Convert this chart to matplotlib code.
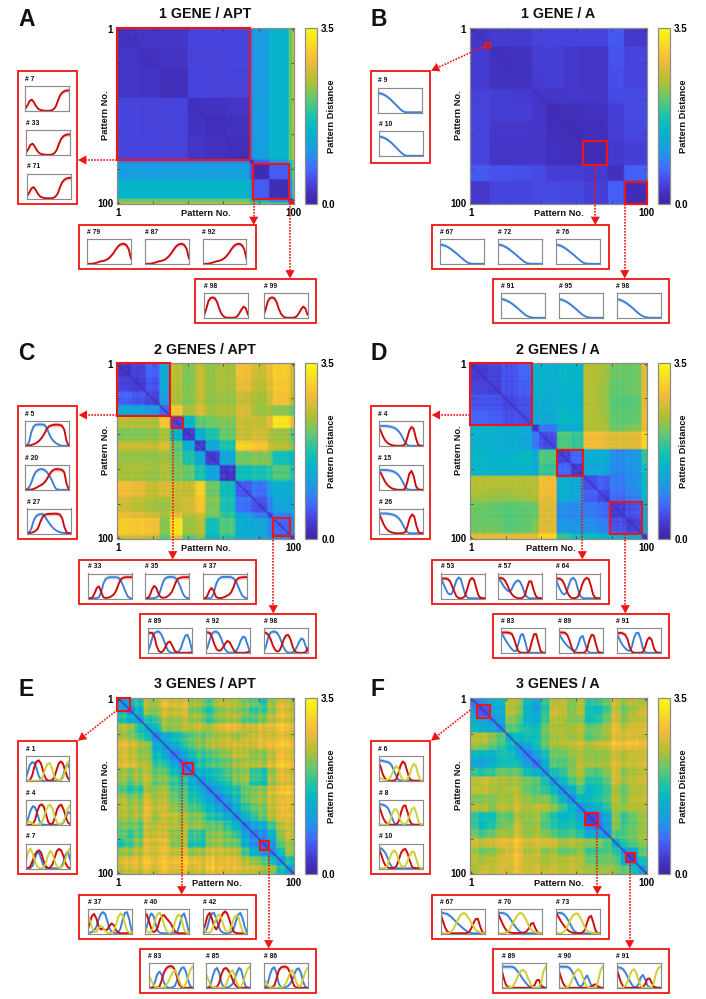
import numpy as np
import matplotlib
matplotlib.use('Agg')
import matplotlib.pyplot as plt
from matplotlib.colors import LinearSegmentedColormap
from matplotlib.patches import Rectangle

plt.rcParams['font.family'] = ['Liberation Sans', 'DejaVu Sans']
plt.rcParams['font.weight'] = 'bold'

# ---------- heat-map data: block edges + lower-triangular block values ----------
a_edges = [0, 12, 24, 40, 50, 62, 75, 77, 86, 97, 99, 100]
a_vals = [[.24], [.26, .22], [.27, .25, .20], [.42, .40, .42, .22], [.42, .40, .40, .24, .20],
          [.42, .42, .40, .26, .22, .20], [.85, .85, .85, .85, .85, .85, .10],
          [1.12, 1.10, 1.12, 1.15, 1.12, 1.15, .60, .15],
          [1.45, 1.45, 1.45, 1.45, 1.45, 1.48, 1.00, .60, .18],
          [2.10, 2.10, 2.10, 2.10, 2.10, 2.10, 1.70, 1.50, .90, .10],
          [2.60, 2.60, 2.60, 2.60, 2.60, 2.60, 2.20, 2.20, 2.00, .60, .05]]

b_edges = [0, 11, 24, 35, 43, 53, 64, 78, 87, 100]
b_vals = [[.28], [.34, .22], [.34, .24, .24], [.40, .36, .34, .28], [.42, .36, .36, .28, .18],
          [.42, .30, .30, .28, .20, .18], [.42, .26, .26, .28, .22, .20, .16],
          [.58, .52, .50, .46, .36, .36, .32, .22],
          [.30, .42, .42, .46, .46, .44, .38, .62, .18]]

c_edges = [0, 8, 16, 24, 30, 37, 44, 50, 58, 67, 76, 85, 88, 98, 100]
c_vals = [[.25], [.38, .32], [.65, .55, .45], [1.25, 1.20, 1.05, .55],
          [2.45, 2.40, 2.40, 2.90, .40],
          [2.20, 2.20, 2.25, 2.35, 1.40, .30],
          [2.50, 2.50, 2.50, 2.60, 2.00, 1.30, .30],
          [2.30, 2.30, 2.30, 2.30, 2.10, 1.70, 1.20, .30],
          [2.40, 2.40, 2.35, 2.40, 2.20, 2.10, 1.70, 1.20, .30],
          [2.85, 2.75, 2.55, 2.60, 2.50, 2.50, 3.00, 2.10, 1.60, .50],
          [2.60, 2.50, 2.40, 2.30, 2.50, 2.60, 2.90, 2.20, 1.70, .70, .50],
          [2.80, 2.70, 2.60, 2.30, 2.70, 2.40, 2.50, 2.10, 1.80, 1.10, .80, .40],
          [3.00, 2.95, 2.90, 2.20, 3.20, 2.30, 2.40, 1.60, 2.00, 1.30, 1.20, .80, .60],
          [2.60, 2.60, 2.50, 2.00, 2.80, 2.00, 2.20, 1.50, 1.80, 1.40, 1.30, 1.00, .90, .30]]

d_edges = [0, 10, 18, 27, 35, 39, 49, 57, 64, 72, 79, 88, 97, 100]
d_vals = [[.30], [.38, .35], [.50, .50, .40], [.60, .55, .45, .40],
          [1.40, 1.40, 1.30, 1.20, .30],
          [1.30, 1.30, 1.25, 1.15, .70, .30],
          [1.45, 1.40, 1.40, 1.45, 1.30, 1.90, .35],
          [1.45, 1.40, 1.40, 1.40, 1.30, 1.80, .65, .35],
          [2.40, 2.40, 2.40, 2.35, 2.40, 2.75, 1.30, 1.20, .40],
          [2.35, 2.30, 2.30, 2.30, 2.40, 2.70, 1.30, 1.20, .55, .40],
          [2.10, 2.05, 2.00, 2.00, 2.10, 2.60, .90, .90, .75, .65, .30],
          [2.10, 2.10, 2.00, 2.00, 2.20, 2.60, 1.00, 1.00, .90, .80, .45, .30],
          [2.70, 2.70, 2.70, 2.70, 2.70, 3.00, 1.80, 1.60, 1.50, 1.40, 1.30, 1.20, .30]]

e_edges = list(range(0, 101, 5))
e_vals = [[1.0], [1.7, 1.0], [1.9, 1.6, 1.3], [2.5, 2.4, 1.8, 1.3], [2.6, 2.5, 2.2, 1.7, 1.2],
          [2.8, 2.7, 2.5, 2.2, 1.4, 1.1], [2.8, 2.7, 2.5, 2.3, 1.8, 1.3, 1.0],
          [2.8, 2.8, 2.6, 2.4, 2.0, 1.7, 1.3, .9], [2.5, 2.4, 2.5, 2.5, 2.3, 2.1, 1.8, 1.4, 1.1],
          [2.4, 2.2, 2.4, 2.5, 2.3, 2.2, 2.0, 1.8, 1.5, 1.1],
          [2.1, 1.9, 2.0, 2.4, 2.5, 2.4, 2.1, 2.0, 1.7, 1.4, 1.0],
          [2.6, 2.4, 2.4, 2.7, 2.6, 2.5, 2.3, 2.1, 1.9, 1.7, 1.3, 1.0],
          [2.6, 2.5, 2.5, 2.8, 2.7, 2.6, 2.4, 2.2, 2.1, 1.9, 1.6, 1.3, 1.0],
          [2.5, 2.4, 2.5, 2.7, 2.5, 2.6, 2.6, 2.4, 2.3, 2.2, 1.8, 1.7, 1.4, 1.0],
          [2.3, 2.3, 2.2, 2.6, 2.7, 2.6, 2.6, 2.5, 2.4, 2.4, 2.2, 2.2, 1.9, 1.5, 1.0],
          [2.2, 2.0, 2.2, 2.6, 2.8, 2.6, 2.4, 2.5, 2.0, 1.9, 2.3, 2.4, 2.2, 1.9, 1.3, .9],
          [1.9, 2.1, 2.4, 2.8, 2.9, 2.8, 2.4, 2.5, 1.9, 1.8, 2.4, 2.5, 2.3, 2.2, 1.5, 1.1, .8],
          [2.4, 2.4, 2.6, 2.7, 2.8, 2.8, 2.6, 2.7, 2.4, 2.4, 2.7, 2.7, 2.6, 2.5, 2.0, 1.5, 1.2, 1.0],
          [2.7, 2.8, 2.8, 2.9, 2.9, 2.9, 2.9, 3.0, 2.8, 2.7, 2.9, 2.8, 2.8, 2.7, 2.5, 2.3, 2.1, 1.6, 1.0],
          [2.5, 2.6, 2.6, 2.7, 2.7, 2.8, 2.7, 2.8, 2.6, 2.6, 2.9, 2.8, 2.7, 2.7, 2.6, 2.6, 2.4, 2.3, 1.6, 1.0]]

f_edges = list(range(0, 101, 5))
f_vals = [[.9], [1.1, .8], [1.5, 1.3, 1.1], [1.6, 1.4, 1.3, 1.0], [2.5, 2.5, 2.3, 2.0, 1.3],
          [2.4, 2.3, 2.1, 1.9, 1.5, 1.1], [1.7, 1.6, 1.6, 1.8, 1.7, 1.3, 1.0],
          [1.4, 1.3, 1.5, 1.7, 1.7, 1.7, 1.3, 1.0], [1.9, 1.8, 1.9, 2.1, 2.0, 2.0, 1.7, 1.4, 1.0],
          [2.5, 2.6, 2.5, 2.4, 2.3, 2.3, 2.2, 2.1, 1.6, 1.0],
          [2.6, 2.6, 2.5, 2.4, 2.4, 2.4, 2.2, 2.1, 1.8, 1.5, 1.0],
          [2.3, 2.3, 2.3, 2.4, 2.3, 2.5, 2.4, 2.3, 2.2, 1.9, 1.4, 1.0],
          [2.5, 2.5, 2.3, 2.5, 2.4, 2.6, 2.5, 2.6, 2.4, 2.2, 1.9, 1.5, 1.0],
          [2.0, 1.8, 1.8, 2.2, 2.1, 2.5, 2.5, 2.6, 2.1, 1.8, 1.6, 1.7, 1.3, .7],
          [2.0, 1.7, 1.9, 2.2, 2.2, 2.6, 2.4, 2.5, 2.0, 1.8, 1.7, 1.8, 1.5, 1.0, .8],
          [2.2, 2.0, 2.2, 2.4, 2.3, 2.6, 2.4, 2.5, 2.2, 2.0, 1.9, 2.0, 1.8, 1.4, 1.2, 1.0],
          [2.6, 2.5, 2.6, 2.7, 2.6, 2.8, 2.6, 2.7, 2.5, 2.5, 2.3, 2.4, 2.3, 2.3, 2.2, 1.9, 1.2],
          [2.4, 2.2, 2.3, 2.5, 2.6, 2.8, 2.5, 2.6, 2.2, 2.3, 2.1, 2.2, 2.3, 2.0, 2.0, 2.0, 1.7, 1.1],
          [2.5, 2.4, 2.5, 2.6, 2.6, 2.8, 2.6, 2.6, 2.3, 2.4, 2.4, 2.5, 2.4, 2.2, 2.1, 2.1, 1.9, 1.3, .9],
          [2.4, 2.6, 2.5, 2.6, 2.5, 2.7, 2.6, 2.7, 2.4, 2.5, 2.4, 2.5, 2.4, 2.4, 2.3, 2.3, 2.1, 2.0, 1.5, 1.0]]

c_stripe = [0, .02, -.02, .02, 0, .03, -.02, .02, .03, 0,
            .02, -.03, 0, .03, .02, 0, -.02, .03, 0, .02,
            -.04, -.03, -.05, .02, .05, .04, .03, .02, .05, .03,
            .04, .06, .05, .02, -.03, .05, .08, -.03, .02, .06,
            -.05, .03, .08, -.02, -.04, .02, .06, .1, .03, -.05,
            .06, .03, -.02, .05, -.03, .02, .08, .03, .05, -.02,
            .06, -.03, -.08, .02, .05, -.02, -.1, .05, .02, .06,
            .03, .08, -.03, .02, .05, -.02, .06, .03, .08, -.03,
            .02, -.05, .03, -.03, .05, .08, .03, -.03, .05, .06,
            .03, .02, -.02, .04, .03, .05, .02, -.05, -.03, 0]
d_stripe = [0, .03, .02, -.02, .03, 0, .04, -.02, .02, .03,
            -.02, .03, .02, 0, .03, -.02, .02, 0, .05, .03,
            -.02, .02, .04, -.03, .02, .05, .02, .04, .06, .02,
            .05, .03, .07, .04, .08, -.03, .05, -.05, .06, .1,
            .12, .08, .05, .03, .1, .06, .03, .12, .05, -.08,
            .03, .05, -.02, .04, .06, -.03, .05, .02, -.05, .03,
            .02, .05, -.03, -.05, .02, .04, .06, .03, .05, .02,
            .06, .04, .03, .07, .02, .05, -.03, .02, -.05, .06,
            .02, .05, .03, -.02, .05, .06, -.03, .02, .05, .03,
            -.04, .05, .02, .06, .03, .08, .1, .06, .04, .02]
e_stripe = [0, .05, -.1, .1, .15, .2, -.05, -.15, .05, .1,
            .2, .15, -.15, -.2, .05, .25, .3, .1, .25, -.1,
            -.05, -.2, -.15, .05, .1, .15, .25, .3, .1, -.05,
            .05, -.1, .1, .15, -.05, -.1, .05, .1, .25, .2,
            -.05, .05, -.15, .1, .2, .05, .3, .15, -.1, -.05,
            .1, .05, -.1, .15, .25, -.05, -.15, .1, .05, .15,
            -.1, .05, .2, .1, -.05, .1, .3, .15, -.05, .1,
            .15, -.1, .05, .2, .05, -.1, .1, .15, -.05, .05,
            .2, .1, -.1, -.15, .05, .15, .25, .05, -.05, .1,
            .15, .05, .2, .3, .1, .3, .35, .25, .05, .1]
f_stripe = [.05, 0, -.05, .05, 0, -.1, -.05, 0, .05, .1,
            0, .05, -.05, -.1, .1, .05, -.05, .1, .15, .05,
            .2, .15, .05, .1, .2, .25, .2, .1, -.05, 0,
            -.1, -.05, .05, -.1, 0, -.15, -.1, -.05, .05, -.05,
            .1, .15, .2, .05, .15, .25, .05, .15, .2, 0,
            .05, .15, 0, .1, .05, -.05, .1, .05, .15, 0,
            .05, .1, .15, .05, -.05, -.1, -.05, -.15, -.05, .05,
            -.1, -.05, .05, 0, .05, .1, 0, .05, .1, .2,
            .25, .3, .15, .05, .2, .1, -.05, .05, .15, .25,
            .1, .2, .05, .15, .2, .1, .2, .1, .25, .15]

# ---------- curves inside the small insets, 21 samples each ----------
a7_red = [.08, .22, .40, .45, .33, .17, .07, .03, .01, 0, 0, 0, .02, .07, .20, .45, .65, .75, .80, .82, .82]
a79_red = [0, 0, 0, .01, .03, .06, .09, .11, .13, .17, .23, .32, .43, .57, .69, .77, .80, .80, .74, .58, .20]
a98_red = [.08, .35, .68, .80, .82, .78, .62, .35, .15, .05, .01, 0, 0, 0, .01, .05, .17, .33, .45, .38, .12]
b9_blue = [.78, .76, .73, .69, .63, .56, .48, .39, .30, .21, .12, .05, .01, 0, 0, 0, 0, 0, 0, 0, 0]
b67_blue = [.78, .76, .74, .70, .65, .59, .52, .45, .38, .30, .22, .15, .08, .03, .01, 0, 0, 0, 0, 0, 0]
b91_blue = [.76, .74, .71, .67, .62, .56, .49, .42, .34, .26, .18, .11, .06, .03, .01, 0, 0, 0, 0, 0, 0]

c5_blue = [0, .02, .15, .55, .78, .85, .86, .86, .86, .84, .72, .50, .32, .20, .12, .06, .02, 0, 0, 0, 0]
c5_red = [0, 0, .01, .03, .06, .10, .16, .24, .36, .50, .68, .78, .82, .84, .85, .85, .84, .80, .65, .20, 0]
c20_blue = [0, .02, .10, .28, .55, .72, .80, .83, .83, .80, .72, .60, .45, .25, .06, .01, 0, 0, 0, 0, 0]
c20_red = [0, 0, 0, .01, .03, .07, .12, .17, .22, .30, .42, .58, .72, .80, .83, .83, .82, .80, .70, .25, .03]
c27_blue = [0, .03, .20, .50, .68, .75, .77, .78, .70, .55, .42, .30, .20, .13, .08, .04, .02, .01, 0, 0, 0]
c27_red = [0, .01, .02, .05, .10, .20, .45, .65, .74, .77, .78, .78, .79, .79, .78, .75, .60, .25, .04, 0, 0]
c33_red = [0, 0, .03, .20, .42, .48, .25, .04, .01, .02, .05, .10, .18, .35, .60, .78, .83, .85, .85, .85, .85]
c33_blue = [0, 0, 0, 0, .01, .04, .25, .60, .78, .83, .85, .85, .85, .85, .82, .70, .50, .28, .08, .01, 0]
c35_red = [0, 0, .10, .35, .50, .42, .18, .04, .02, .03, .07, .14, .25, .45, .68, .80, .83, .85, .85, .85, .85]
c35_blue = [0, 0, 0, 0, .01, .03, .10, .35, .65, .80, .85, .86, .86, .85, .80, .65, .45, .20, .06, .01, 0]
c37_red = [0, 0, .08, .30, .42, .30, .06, .01, .01, .02, .05, .10, .15, .25, .45, .70, .80, .83, .85, .85, .85]
c37_blue = [0, 0, 0, 0, .02, .20, .55, .75, .83, .86, .86, .86, .86, .85, .80, .70, .50, .28, .10, .03, 0]
c89_red = [.82, .80, .80, .62, .25, .06, .02, .08, .25, .42, .45, .30, .10, .02, 0, 0, 0, 0, 0, .01, .02]
c89_blue = [.05, .30, .62, .80, .85, .85, .75, .55, .30, .10, .02, 0, 0, .01, .05, .20, .48, .70, .72, .48, .10]
c92_red = [.85, .82, .80, .62, .35, .15, .08, .10, .22, .38, .48, .42, .25, .08, .01, 0, 0, 0, 0, .02, .05]
c92_blue = [.05, .25, .55, .78, .85, .85, .78, .60, .35, .12, .03, 0, 0, .02, .08, .25, .50, .65, .62, .35, .08]
c98_red = [.82, .80, .72, .55, .30, .12, .05, .08, .28, .55, .70, .72, .55, .25, .05, .01, 0, 0, 0, .03, .20]
c98_blue = [.05, .30, .65, .82, .85, .85, .80, .65, .42, .20, .06, .01, 0, .02, .08, .25, .45, .58, .52, .25, .05]

d4_blue = [.80, .80, .80, .80, .79, .78, .76, .73, .68, .60, .48, .32, .15, .04, 0, 0, 0, 0, 0, 0, 0]
d4_red = [.78, .60, .38, .22, .12, .06, .03, .01, 0, 0, 0, .01, .05, .30, .62, .76, .68, .30, .05, 0, 0]
d15_red = [.78, .68, .50, .32, .20, .12, .06, .03, .01, 0, 0, 0, .03, .28, .65, .76, .55, .15, .02, 0, 0]
d53_blue = [.82, .60, .40, .22, .15, .20, .45, .72, .84, .78, .45, .15, .03, 0, 0, 0, 0, 0, 0, 0, 0]
d53_red = [.80, .80, .80, .78, .70, .50, .28, .08, .01, 0, .02, .10, .40, .72, .82, .75, .42, .12, .02, 0, 0]
d57_blue = [.82, .70, .55, .42, .32, .27, .35, .55, .68, .72, .65, .45, .20, .05, 0, 0, 0, 0, 0, 0, 0]
d57_red = [.82, .82, .80, .72, .55, .35, .18, .08, .03, 0, 0, .02, .10, .40, .68, .68, .35, .10, .01, 0, 0]
d64_blue = [.80, .55, .35, .20, .15, .25, .55, .78, .82, .72, .40, .12, .02, 0, 0, 0, 0, 0, 0, 0, 0]
d64_red = [.80, .80, .78, .72, .55, .30, .12, .02, 0, .01, .05, .25, .55, .75, .82, .78, .50, .15, .02, 0, 0]
d83_blue = [.80, .68, .52, .38, .25, .14, .06, .08, .40, .72, .75, .45, .10, .01, 0, 0, 0, 0, 0, 0, 0]
d83_red = [.82, .82, .82, .82, .80, .75, .55, .25, .05, .01, 0, 0, .01, .10, .45, .75, .75, .40, .08, 0, 0]
d89_blue = [.80, .65, .50, .38, .28, .20, .13, .08, .12, .35, .62, .68, .40, .10, .01, 0, 0, 0, 0, 0, 0]
d89_red = [.82, .82, .82, .80, .72, .50, .20, .04, 0, 0, 0, 0, .02, .15, .50, .72, .70, .35, .05, 0, 0]
d91_blue = [.80, .62, .42, .28, .18, .10, .08, .25, .62, .80, .80, .55, .18, .03, 0, 0, 0, 0, 0, 0, 0]
d91_red = [.80, .80, .80, .78, .72, .55, .22, .04, 0, 0, 0, 0, .03, .22, .52, .62, .52, .18, .03, 0, 0]

e1_blue = [.05, .35, .65, .75, .72, .50, .20, .05, 0, 0, 0, 0, 0, 0, 0, 0, .02, .18, .50, .70, .50]
e1_red = [0, 0, .03, .20, .55, .78, .82, .70, .40, .12, .02, 0, .02, .12, .40, .68, .78, .70, .42, .15, .02]
e1_yel = [.10, .02, 0, 0, 0, 0, .01, .05, .20, .50, .68, .72, .50, .20, .06, .03, .02, .10, .40, .70, .85]
e4_blue = [.05, .30, .60, .75, .70, .45, .15, .03, 0, 0, 0, 0, 0, 0, 0, 0, .02, .10, .30, .52, .45]
e4_red = [0, 0, 0, .03, .20, .55, .78, .82, .72, .40, .10, .02, .05, .30, .62, .78, .80, .60, .30, .08, .02]
e4_yel = [0, .15, .10, .03, 0, 0, .03, .10, .30, .60, .78, .80, .62, .30, .08, .02, .03, .15, .42, .68, .80]
e7_yel = [.30, .65, .80, .60, .30, .08, .01, 0, .03, .20, .52, .70, .60, .30, .06, .02, .03, .12, .40, .68, .80]
e7_red = [0, .01, .08, .30, .55, .68, .72, .60, .30, .08, .01, .03, .15, .42, .70, .78, .72, .50, .20, .04, 0]
e7_blue = [0, 0, .01, .10, .40, .62, .62, .35, .10, .01, 0, 0, 0, 0, 0, .01, .05, .25, .55, .68, .35]
e37_red = [.10, .40, .70, .78, .60, .30, .15, .20, .12, .15, .30, .40, .32, .12, .03, 0, 0, 0, 0, .02, .02]
e37_blue = [.02, .02, .05, .12, .25, .55, .78, .85, .78, .50, .20, .06, .02, 0, .03, .20, .55, .82, .85, .55, .12]
e37_yel = [.80, .55, .25, .05, .05, .20, .30, .25, .10, .02, 0, .02, .10, .35, .68, .80, .72, .40, .12, .02, .02]
e40_red = [.82, .75, .50, .20, .05, .08, .25, .55, .72, .72, .60, .50, .38, .20, .06, .01, 0, 0, 0, 0, 0]
e40_blue = [0, .25, .60, .80, .72, .40, .10, .02, 0, 0, 0, 0, 0, .02, .02, .08, .35, .70, .80, .50, .10]
e40_yel = [.30, .10, .02, .05, .25, .58, .80, .82, .60, .30, .10, .02, .02, .15, .50, .72, .75, .50, .15, .02, 0]
e42_red = [.05, .35, .70, .82, .60, .30, .15, .30, .60, .80, .88, .80, .55, .25, .06, .01, 0, 0, 0, 0, 0]
e42_blue = [0, .05, .25, .60, .80, .82, .60, .30, .10, .03, 0, 0, .02, .05, .20, .50, .75, .82, .60, .25, .03]
e42_yel = [.25, .10, .02, .02, .10, .35, .62, .75, .70, .40, .15, .04, .08, .30, .60, .72, .68, .35, .08, .01, 0]
e83_yel = [.55, .35, .15, .03, 0, 0, 0, .02, .10, .25, .45, .62, .72, .55, .28, .08, .04, .15, .45, .72, .85]
e83_blue = [0, 0, .02, .25, .55, .65, .52, .22, .05, 0, 0, .02, .08, .30, .62, .80, .82, .65, .30, .06, 0]
e83_red = [0, 0, 0, 0, .01, .05, .30, .62, .78, .85, .87, .85, .72, .42, .12, .02, 0, 0, 0, 0, 0]
e85_yel = [.55, .35, .12, .02, 0, 0, 0, 0, .02, .10, .35, .60, .72, .50, .20, .04, .05, .25, .55, .78, .85]
e85_blue = [0, 0, .10, .45, .72, .80, .60, .20, .03, 0, .02, .06, .15, .35, .62, .80, .72, .35, .06, 0, 0]
e85_red = [0, 0, 0, 0, .01, .03, .20, .55, .75, .80, .72, .55, .35, .15, .04, .01, 0, 0, 0, 0, 0]
e86_yel = [.40, .25, .08, .02, 0, 0, 0, 0, .02, .05, .15, .35, .60, .72, .50, .20, .05, .10, .35, .65, .80]
e86_blue = [0, .02, .20, .55, .78, .82, .55, .15, .02, 0, .02, .06, .15, .30, .55, .75, .78, .60, .25, .03, 0]
e86_red = [0, 0, 0, 0, .02, .10, .40, .72, .82, .85, .85, .80, .62, .30, .07, .01, 0, 0, 0, 0, 0]

f6_blue = [.82, .82, .80, .78, .76, .72, .62, .42, .20, .05, .01, 0, 0, 0, 0, 0, 0, 0, 0, 0, 0]
f6_red = [.78, .55, .25, .08, .02, 0, 0, .01, .05, .30, .62, .78, .70, .40, .10, .02, 0, 0, 0, 0, 0]
f6_yel = [.15, .10, .06, .03, .03, .08, .25, .45, .60, .50, .20, .05, .02, .05, .20, .50, .68, .60, .25, .04, 0]
f8_blue = [.82, .82, .80, .76, .68, .50, .25, .06, .01, 0, 0, 0, 0, 0, 0, 0, 0, 0, 0, 0, 0]
f8_red = [.78, .50, .25, .10, .03, .01, 0, 0, .02, .15, .50, .75, .78, .50, .15, .02, 0, 0, 0, 0, 0]
f8_yel = [.02, .01, 0, 0, .02, .15, .45, .62, .62, .40, .12, .03, .04, .15, .40, .65, .70, .45, .12, .02, 0]
f10_blue = [.82, .80, .72, .60, .40, .18, .04, 0, 0, 0, 0, 0, 0, 0, 0, 0, 0, 0, 0, 0, 0]
f10_red = [.80, .55, .28, .10, .03, .01, 0, .02, .10, .35, .62, .75, .78, .60, .30, .06, .01, 0, 0, 0, 0]
f10_yel = [.02, 0, 0, .02, .15, .45, .65, .72, .60, .30, .10, .06, .10, .30, .52, .68, .65, .35, .08, .01, 0]
f67_blue = [.82, .82, .80, .78, .72, .65, .56, .47, .38, .30, .22, .15, .08, .03, .01, 0, 0, 0, 0, 0, 0]
f67_red = [.80, .52, .25, .08, .02, 0, 0, 0, 0, 0, 0, 0, .01, .05, .20, .42, .58, .58, .28, .06, 0]
f67_yel = [.02, .01, 0, 0, .02, .08, .20, .38, .58, .72, .80, .80, .72, .58, .42, .28, .12, .08, .05, .01, 0]
f70_blue = [.82, .82, .82, .80, .75, .65, .52, .38, .25, .14, .06, .02, 0, 0, 0, 0, 0, 0, 0, 0, 0]
f70_red = [.80, .60, .40, .22, .10, .04, .02, .01, .01, .01, .01, .02, .03, .08, .20, .38, .42, .20, .04, 0, 0]
f70_yel = [.02, 0, 0, 0, .03, .12, .28, .45, .62, .75, .82, .80, .68, .50, .30, .15, .08, .04, .01, 0, 0]
f73_blue = [.82, .82, .82, .80, .72, .60, .45, .28, .12, .04, .01, 0, 0, 0, 0, 0, 0, 0, 0, 0, 0]
f73_red = [.80, .68, .52, .38, .26, .16, .08, .04, .01, 0, 0, 0, .03, .12, .40, .65, .70, .42, .10, .01, 0]
f73_yel = [.02, 0, 0, .02, .10, .25, .45, .62, .75, .80, .78, .65, .45, .25, .10, .05, .03, .01, 0, 0, 0]
f89_blue = [.85, .85, .85, .85, .85, .84, .80, .70, .58, .45, .32, .20, .10, .04, .01, 0, 0, 0, 0, 0, 0]
f89_red = [.75, .40, .12, .03, 0, 0, 0, 0, 0, 0, 0, 0, 0, .01, .03, .10, .30, .32, .10, .02, 0]
f89_yel = [0, 0, 0, 0, .01, .05, .18, .38, .58, .70, .72, .62, .40, .20, .05, .01, 0, .02, .20, .65, .85]
f90_blue = [.85, .85, .85, .85, .84, .80, .68, .50, .30, .12, .04, .12, .38, .50, .30, .06, .01, 0, 0, 0, 0]
f90_red = [.75, .45, .20, .06, .01, 0, 0, 0, 0, 0, 0, 0, 0, 0, .01, .05, .12, .14, .06, .01, 0]
f90_yel = [0, 0, 0, 0, .02, .10, .28, .50, .68, .75, .68, .45, .18, .04, 0, 0, 0, .02, .25, .68, .85]
f91_blue = [.82, .82, .80, .75, .62, .45, .28, .12, .03, .02, .15, .42, .52, .35, .10, .02, 0, 0, 0, 0, 0]
f91_red = [.78, .50, .22, .06, .01, 0, 0, 0, 0, 0, 0, 0, .02, .15, .35, .38, .20, .05, .01, 0, 0]
f91_yel = [0, 0, 0, .02, .08, .25, .50, .70, .75, .60, .30, .08, .01, 0, 0, 0, .02, .20, .60, .80, .85]

# ---------- styles ----------
RED, BLUE, YEL = '#cc0a0a', '#3a7fd5', '#cfcf33'
BOX = '#f01414'
FRAME = '#8c8c8c'
W, H = 706, 999
parula = LinearSegmentedColormap.from_list('parula', [
    (0.00, (.2422, .1504, .6603)), (.05, (.2560, .1800, .7200)), (.10, (.2750, .2400, .8300)),
    (.15, (.2800, .3200, .9300)), (.20, (.2600, .4200, .9900)),
    (.30, (.1100, .6000, .9000)), (.43, (.0200, .7200, .7800)), (.50, (.1000, .7600, .6800)),
    (.60, (.3800, .7900, .4300)), (.70, (.7000, .7500, .2000)), (.82, (.9600, .7300, .2300)),
    (.90, (.9700, .8400, .1500)), (1.0, (.9800, .9800, .0800))])

fig = plt.figure(figsize=(W / 100, H / 100), dpi=100, facecolor='white')


def ax_px(x0, y0, x1, y1, **kw):
    return fig.add_axes([x0 / W, 1 - y1 / H, (x1 - x0) / W, (y1 - y0) / H], **kw)


overlay = ax_px(0, 0, W, H, zorder=20)
overlay.set_xlim(0, W)
overlay.set_ylim(H, 0)
overlay.axis('off')
overlay.patch.set_alpha(0)


def build(edges, vals, stripe=None, patches=(), gain=.6, level=0):
    k = len(edges) - 1
    sym = np.zeros((k, k))
    for r, row in enumerate(vals):
        for c, v in enumerate(row):
            sym[r, c] = sym[c, r] = v
    idx = np.searchsorted(edges, np.arange(100), side='right') - 1
    m = sym[np.ix_(idx, idx)] + level
    if stripe is not None:
        s = np.asarray(stripe) * gain
        m = m + s[:, None] + s[None, :]
    for a, b, v in patches:
        m[a:b, a:b] = v
    np.fill_diagonal(m, .12)
    return np.clip(m, 0, 3.5)


def heat(ox, oy, title, letter, m, boxes, xlabel_x):
    ax = ax_px(ox + 117.3, oy + 28.3, ox + 294, oy + 204.3)
    im = ax.imshow(m, cmap=parula, vmin=0, vmax=3.5, extent=(0, 100, 100, 0),
                   interpolation='bilinear', aspect='auto')
    ticks = [.5, 20, 40, 60, 80, 99.5]
    labels = ['1', '', '', '', '', '100']
    ax.set_xticks(ticks, labels)
    ax.set_yticks(ticks, labels)
    ax.tick_params(direction='in', length=2, width=.5, color='#333333', top=True, right=True,
                   labelsize=7, pad=3)
    for sp in ax.spines.values():
        sp.set_color(FRAME)
        sp.set_linewidth(.9)
    for a, b in boxes:
        ax.add_patch(Rectangle((a, a), b - a, b - a, fill=False, ec=BOX, lw=1.5, zorder=5, clip_on=False))
    cax = ax_px(ox + 304.6, oy + 28.3, ox + 316.7, oy + 204.3)
    cb = fig.colorbar(im, cax=cax)
    cb.set_ticks([0, 3.5], labels=['0.0', '3.5'])
    cb.ax.tick_params(length=0, labelsize=7, pad=3.2)
    cb.outline.set_edgecolor(FRAME)
    cb.outline.set_linewidth(.9)
    overlay.text(ox + 205, oy + 14.5, title, ha='center', va='center', fontsize=10.3, color='#111111')
    overlay.text(ox + 18, oy + 25.5, letter, ha='left', va='baseline', fontsize=16.5, color='#111111')
    overlay.text(ox + xlabel_x, oy + 213.3, 'Pattern No.', ha='center', va='center', fontsize=6.7, color='#111111')
    overlay.text(ox + 105.5, oy + 115, 'Pattern No.', ha='center', va='center', rotation=90, fontsize=6.7, color='#111111')
    overlay.text(ox + 331, oy + 116.5, 'Pattern Distance', ha='center', va='center', rotation=90, fontsize=6.7, color='#111111')


def mini(ox, oy, x, y, label, curves):
    ax = ax_px(ox + x, oy + y, ox + x + 44, oy + y + 25, zorder=10)
    t = np.linspace(0, 1, 21)
    for vals, col in curves:
        v = np.asarray(vals, float)
        ax.fill_between(t, v * .9, v * 1.12, color=col, alpha=.2, lw=0)
    for vals, col in curves:
        ax.plot(t, vals, color=col, lw=1.35, solid_capstyle='round')
    ax.set_xlim(0, 1)
    ax.set_ylim(-.01, 1.0)
    ax.set_xticks([])
    ax.set_yticks([])
    for sp in ax.spines.values():
        sp.set_color(FRAME)
        sp.set_linewidth(.85)
    overlay.text(ox + x, oy + y - 6.5, '# ' + label, ha='left', va='center', fontsize=4.9, color='#111111')


def frame(ox, oy, x0, y0, x1, y1):
    overlay.add_patch(Rectangle((ox + x0, oy + y0), x1 - x0, y1 - y0, fill=False, ec=BOX, lw=1.3))


def arrow(ox, oy, x0, y0, x1, y1):
    d = np.hypot(x1 - x0, y1 - y0)
    ux, uy = (x1 - x0) / d, (y1 - y0) / d
    bx, by = x1 - 7.5 * ux, y1 - 7.5 * uy
    overlay.plot([ox + x0, ox + bx], [oy + y0, oy + by], color=BOX, lw=1.2, ls=(0, (1, .8)))
    overlay.annotate('', xy=(ox + x1, oy + y1), xytext=(ox + bx, oy + by),
                     arrowprops=dict(arrowstyle='-|>,head_length=.6,head_width=.33', color=BOX, lw=0,
                                     shrinkA=0, shrinkB=0, mutation_scale=10))


# ---------- panels ----------
heat(0, 0, '1 GENE / APT', 'A', build(a_edges, a_vals), [(0, 75), (77, 97), (98, 99.5)], 205.7)
frame(0, 0, 18, 71, 77, 204)
frame(0, 0, 78.7, 225, 255.5, 268.5)
frame(0, 0, 195, 279, 316, 323)
for x, y, l in [(25.3, 86, '7'), (26, 130, '33'), (27, 173.5, '71')]:
    mini(0, 0, x, y, l, [(a7_red, RED)])
for x, l in [(87, '79'), (145, '87'), (202.5, '92')]:
    mini(0, 0, x, 239, l, [(a79_red, RED)])
for x, l in [(204, '98'), (263.5, '99')]:
    mini(0, 0, x, 293, l, [(a98_red, RED)])
arrow(0, 0, 117, 160, 78, 160)
arrow(0, 0, 253.7, 200, 253.7, 225)
arrow(0, 0, 290, 200, 290, 278.5)

ox = 353
heat(ox, 0, '1 GENE / A', 'B', build(b_edges, b_vals), [(8.5, 11), (64, 77.5), (87.5, 100)], 205.7)
frame(ox, 0, 18, 71, 77, 163)
frame(ox, 0, 78.7, 225, 255.5, 268.5)
frame(ox, 0, 139.5, 279, 316, 323)
for x, y, l in [(25.3, 87.5, '9'), (26.3, 131, '10')]:
    mini(ox, 0, x, y, l, [(b9_blue, BLUE)])
for x, l in [(87, '67'), (145, '72'), (202.5, '76')]:
    mini(ox, 0, x, 239, l, [(b67_blue, BLUE)])
for x, l in [(148.3, '91'), (205.7, '95'), (263.5, '98')]:
    mini(ox, 0, x, 293, l, [(b91_blue, BLUE)])
arrow(ox, 0, 134, 45, 78, 70.7)
arrow(ox, 0, 242.3, 166, 242.3, 225)
arrow(ox, 0, 271.7, 204, 271.7, 278.5)

oy = 335
heat(0, oy, '2 GENES / APT', 'C', build(c_edges, c_vals, c_stripe, gain=1.2), [(0, 30), (31, 37), (88, 98)], 205.7)
frame(0, oy, 18, 71, 77, 204)
frame(0, oy, 78.7, 224.5, 255.5, 268.5)
frame(0, oy, 139.5, 279, 316, 323)
mini(0, oy, 24.7, 86, '5', [(c5_blue, BLUE), (c5_red, RED)])
mini(0, oy, 24.7, 130, '20', [(c20_blue, BLUE), (c20_red, RED)])
mini(0, oy, 27, 173.5, '27', [(c27_blue, BLUE), (c27_red, RED)])
mini(0, oy, 88, 238.5, '33', [(c33_blue, BLUE), (c33_red, RED)])
mini(0, oy, 145.3, 238.5, '35', [(c35_blue, BLUE), (c35_red, RED)])
mini(0, oy, 202.7, 238.5, '37', [(c37_blue, BLUE), (c37_red, RED)])
mini(0, oy, 148, 293, '89', [(c89_blue, BLUE), (c89_red, RED)])
mini(0, oy, 205.5, 293, '92', [(c92_blue, BLUE), (c92_red, RED)])
mini(0, oy, 264, 293, '98', [(c98_blue, BLUE), (c98_red, RED)])
arrow(0, oy, 117, 80, 78.7, 80)
arrow(0, oy, 172.7, 93.3, 172.7, 224.5)
arrow(0, oy, 273.3, 201.7, 273.3, 278.5)

heat(ox, oy, '2 GENES / A', 'D', build(d_edges, d_vals, d_stripe, gain=1.2), [(0, 35), (49, 64), (79, 97)], 197.5)
frame(ox, oy, 18, 71, 77, 204)
frame(ox, oy, 78.7, 224.5, 255.5, 268.5)
frame(ox, oy, 139.5, 279, 316, 323)
mini(ox, oy, 25.5, 86, '4', [(d4_blue, BLUE), (d4_red, RED)])
mini(ox, oy, 25.5, 130, '15', [(d4_blue, BLUE), (d15_red, RED)])
mini(ox, oy, 26, 173.5, '26', [(d4_blue, BLUE), (d4_red, RED)])
mini(ox, oy, 88, 238.5, '53', [(d53_blue, BLUE), (d53_red, RED)])
mini(ox, oy, 145.3, 238.5, '57', [(d57_blue, BLUE), (d57_red, RED)])
mini(ox, oy, 202.7, 238.5, '64', [(d64_blue, BLUE), (d64_red, RED)])
mini(ox, oy, 148, 293, '83', [(d83_blue, BLUE), (d83_red, RED)])
mini(ox, oy, 205.5, 293, '89', [(d89_blue, BLUE), (d89_red, RED)])
mini(ox, oy, 263.5, 293, '91', [(d91_blue, BLUE), (d91_red, RED)])
arrow(ox, oy, 117, 80, 78.7, 80)
arrow(ox, oy, 229.3, 140.7, 229.3, 224.5)
arrow(ox, oy, 272.3, 199, 272.3, 278.5)

oy = 670
heat(0, oy, '3 GENES / APT', 'E',
     build(e_edges, e_vals, e_stripe, [(0, 7, 1.05), (37, 43, .8), (81, 86, .6)], gain=.75, level=-.18),
     [(0, 7), (37, 43), (81, 86)], 216.5)
frame(0, oy, 18, 71, 77, 204)
frame(0, oy, 78.7, 224.5, 255.5, 268.5)
frame(0, oy, 139.5, 279, 316, 323)
mini(0, oy, 25.5, 86, '1', [(e1_blue, BLUE), (e1_red, RED), (e1_yel, YEL)])
mini(0, oy, 26.3, 130, '4', [(e4_blue, BLUE), (e4_red, RED), (e4_yel, YEL)])
mini(0, oy, 26, 173.5, '7', [(e7_blue, BLUE), (e7_red, RED), (e7_yel, YEL)])
mini(0, oy, 87.5, 238.5, '37', [(e37_blue, BLUE), (e37_red, RED), (e37_yel, YEL)])
mini(0, oy, 144.5, 238.5, '40', [(e40_blue, BLUE), (e40_red, RED), (e40_yel, YEL)])
mini(0, oy, 203, 238.5, '42', [(e42_blue, BLUE), (e42_red, RED), (e42_yel, YEL)])
mini(0, oy, 148.5, 293, '83', [(e83_blue, BLUE), (e83_red, RED), (e83_yel, YEL)])
mini(0, oy, 206, 293, '85', [(e85_blue, BLUE), (e85_red, RED), (e85_yel, YEL)])
mini(0, oy, 263.5, 293, '86', [(e86_blue, BLUE), (e86_red, RED), (e86_yel, YEL)])
arrow(0, oy, 117.3, 40, 78, 70.7)
arrow(0, oy, 181.7, 102.7, 181.7, 224.5)
arrow(0, oy, 268.7, 180, 268.7, 278.5)

heat(ox, oy, '3 GENES / A', 'F',
     build(f_edges, f_vals, f_stripe, [(4, 11, .55), (65, 72, .45), (88, 93, .45)], gain=.75, level=-.1),
     [(4, 11), (65, 72), (88, 93)], 205.7)
frame(ox, oy, 18, 71, 77, 204)
frame(ox, oy, 78.7, 224.5, 255.5, 268.5)
frame(ox, oy, 139.5, 279, 316, 323)
mini(ox, oy, 25.5, 86, '6', [(f6_blue, BLUE), (f6_red, RED), (f6_yel, YEL)])
mini(ox, oy, 26, 130, '8', [(f8_blue, BLUE), (f8_red, RED), (f8_yel, YEL)])
mini(ox, oy, 26, 173.5, '10', [(f10_blue, BLUE), (f10_red, RED), (f10_yel, YEL)])
mini(ox, oy, 87.5, 238.5, '67', [(f67_blue, BLUE), (f67_red, RED), (f67_yel, YEL)])
mini(ox, oy, 145, 238.5, '70', [(f70_blue, BLUE), (f70_red, RED), (f70_yel, YEL)])
mini(ox, oy, 203, 238.5, '73', [(f73_blue, BLUE), (f73_red, RED), (f73_yel, YEL)])
mini(ox, oy, 148.5, 293, '89', [(f89_blue, BLUE), (f89_red, RED), (f89_yel, YEL)])
mini(ox, oy, 205.5, 293, '90', [(f90_blue, BLUE), (f90_red, RED), (f90_yel, YEL)])
mini(ox, oy, 263.5, 293, '91', [(f91_blue, BLUE), (f91_red, RED), (f91_yel, YEL)])
arrow(ox, oy, 117.3, 40, 78, 70.7)
arrow(ox, oy, 244.3, 155.7, 244.3, 224.5)
arrow(ox, oy, 276.7, 192.3, 276.7, 278.5)

fig.savefig('out.png', dpi=100)
